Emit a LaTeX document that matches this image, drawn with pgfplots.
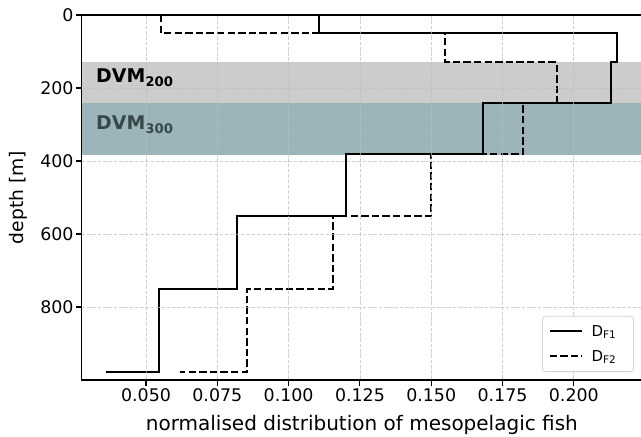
\documentclass[border=0pt]{standalone}
\usepackage{fontspec}
\setmainfont{DejaVu Sans}
\usepackage{pgfplots}
\pgfplotsset{compat=1.18}
\definecolor{band200}{RGB}{204,204,204}
\definecolor{band300}{RGB}{156,181,187}
\definecolor{txt300}{RGB}{55,72,74}
\definecolor{gridc}{RGB}{190,190,190}
\definecolor{legedge}{RGB}{210,210,210}
\newcommand{\fs}{\fontsize{17.4bp}{20bp}\selectfont}
\begin{document}
\begin{tikzpicture}
\useasboundingbox (0,0) rectangle (641bp,437bp);
\begin{axis}[
  at={(81.7bp,57bp)}, anchor=south west,
  scale only axis, width=560.3bp, height=365bp,
  xmin=0.02745, xmax=0.2239, ymin=0, ymax=1000,
  y dir=reverse,
  axis on top,
  axis line style={line width=1.2bp, black},
  xtick={0.05,0.075,0.1,0.125,0.15,0.175,0.2},
  ytick={0,200,400,600,800},
  tick pos=left,
  tick align=outside,
  major tick length=5.5bp,
  tick style={line width=1.1bp, black},
  xticklabel style={/pgf/number format/.cd, fixed, fixed zerofill, precision=3, /tikz/.cd},
  /pgf/number format/assume math mode=true,
  ticklabel style={font=\fs},
  xticklabel style={inner sep=0pt, yshift=-2.5bp},
  yticklabel style={inner sep=0pt, xshift=-2.5bp},
  scaled x ticks=false,
  grid=major,
  major grid style={gridc, opacity=0.7, line width=0.8bp, dash pattern=on 3.7bp off 1.6bp},
  xlabel={normalised distribution of mesopelagic fish},
  ylabel={depth [m]},
  every axis x label/.style={at={(axis description cs:0.5,-0.139)}, anchor=base, font=\fontsize{20bp}{23bp}\selectfont},
  every axis y label/.style={at={(axis description cs:-0.103,0.5)}, anchor=base, rotate=90, font=\fontsize{18.7bp}{22bp}\selectfont},
  legend style={at={(axis description cs:0.9857,0.0219)}, anchor=south east,
    draw=legedge, line width=0.8bp, rounded corners=3bp, fill=white,
    font=\fontsize{15bp}{17bp}\selectfont,
    inner xsep=6bp, inner ysep=9bp,
    row sep=12.5bp,
    nodes={inner sep=0pt},
    /tikz/every odd column/.append style={column sep=9bp}},
  legend cell align=left,
  legend image code/.code={\draw[#1] (0bp,0bp) -- (32bp,0bp);},
]
\addplot[fill=band200, draw=none, forget plot] coordinates {(0.02745,130) (0.2239,130) (0.2239,241) (0.02745,241)} -- cycle;
\addplot[fill=band300, draw=none, forget plot] coordinates {(0.02745,241) (0.2239,241) (0.2239,383) (0.02745,383)} -- cycle;
\addplot[black, line width=2bp] coordinates {
(0.1107,0) (0.1107,50) (0.215,50) (0.215,130) (0.213,130) (0.213,240) (0.168,240) (0.168,380) (0.120,380) (0.120,550) (0.0818,550) (0.0818,750) (0.0547,750) (0.0547,977) (0.036,977)};
\addlegendentry{\makebox[36bp][l]{D\textsubscript{F1}}}
\addplot[black, line width=2bp, dash pattern=on 7.4bp off 3.2bp] coordinates {
(0.0553,0) (0.0553,50) (0.155,50) (0.155,130) (0.194,130) (0.194,240) (0.1823,240) (0.1823,380) (0.150,380) (0.150,550) (0.1155,550) (0.1155,750) (0.0855,750) (0.0855,977) (0.062,977)};
\addlegendentry{\makebox[36bp][l]{D\textsubscript{F2}}}
\node[anchor=base west, inner sep=0pt, font=\fontsize{18.9bp}{22bp}\selectfont\bfseries, black] at (axis cs:0.03247,185.5) {DVM\textsubscript{200}};
\node[anchor=base west, inner sep=0pt, font=\fontsize{18.9bp}{22bp}\selectfont\bfseries, text=txt300] at (axis cs:0.03247,315) {DVM\textsubscript{300}};
\end{axis}
\end{tikzpicture}
\end{document}
